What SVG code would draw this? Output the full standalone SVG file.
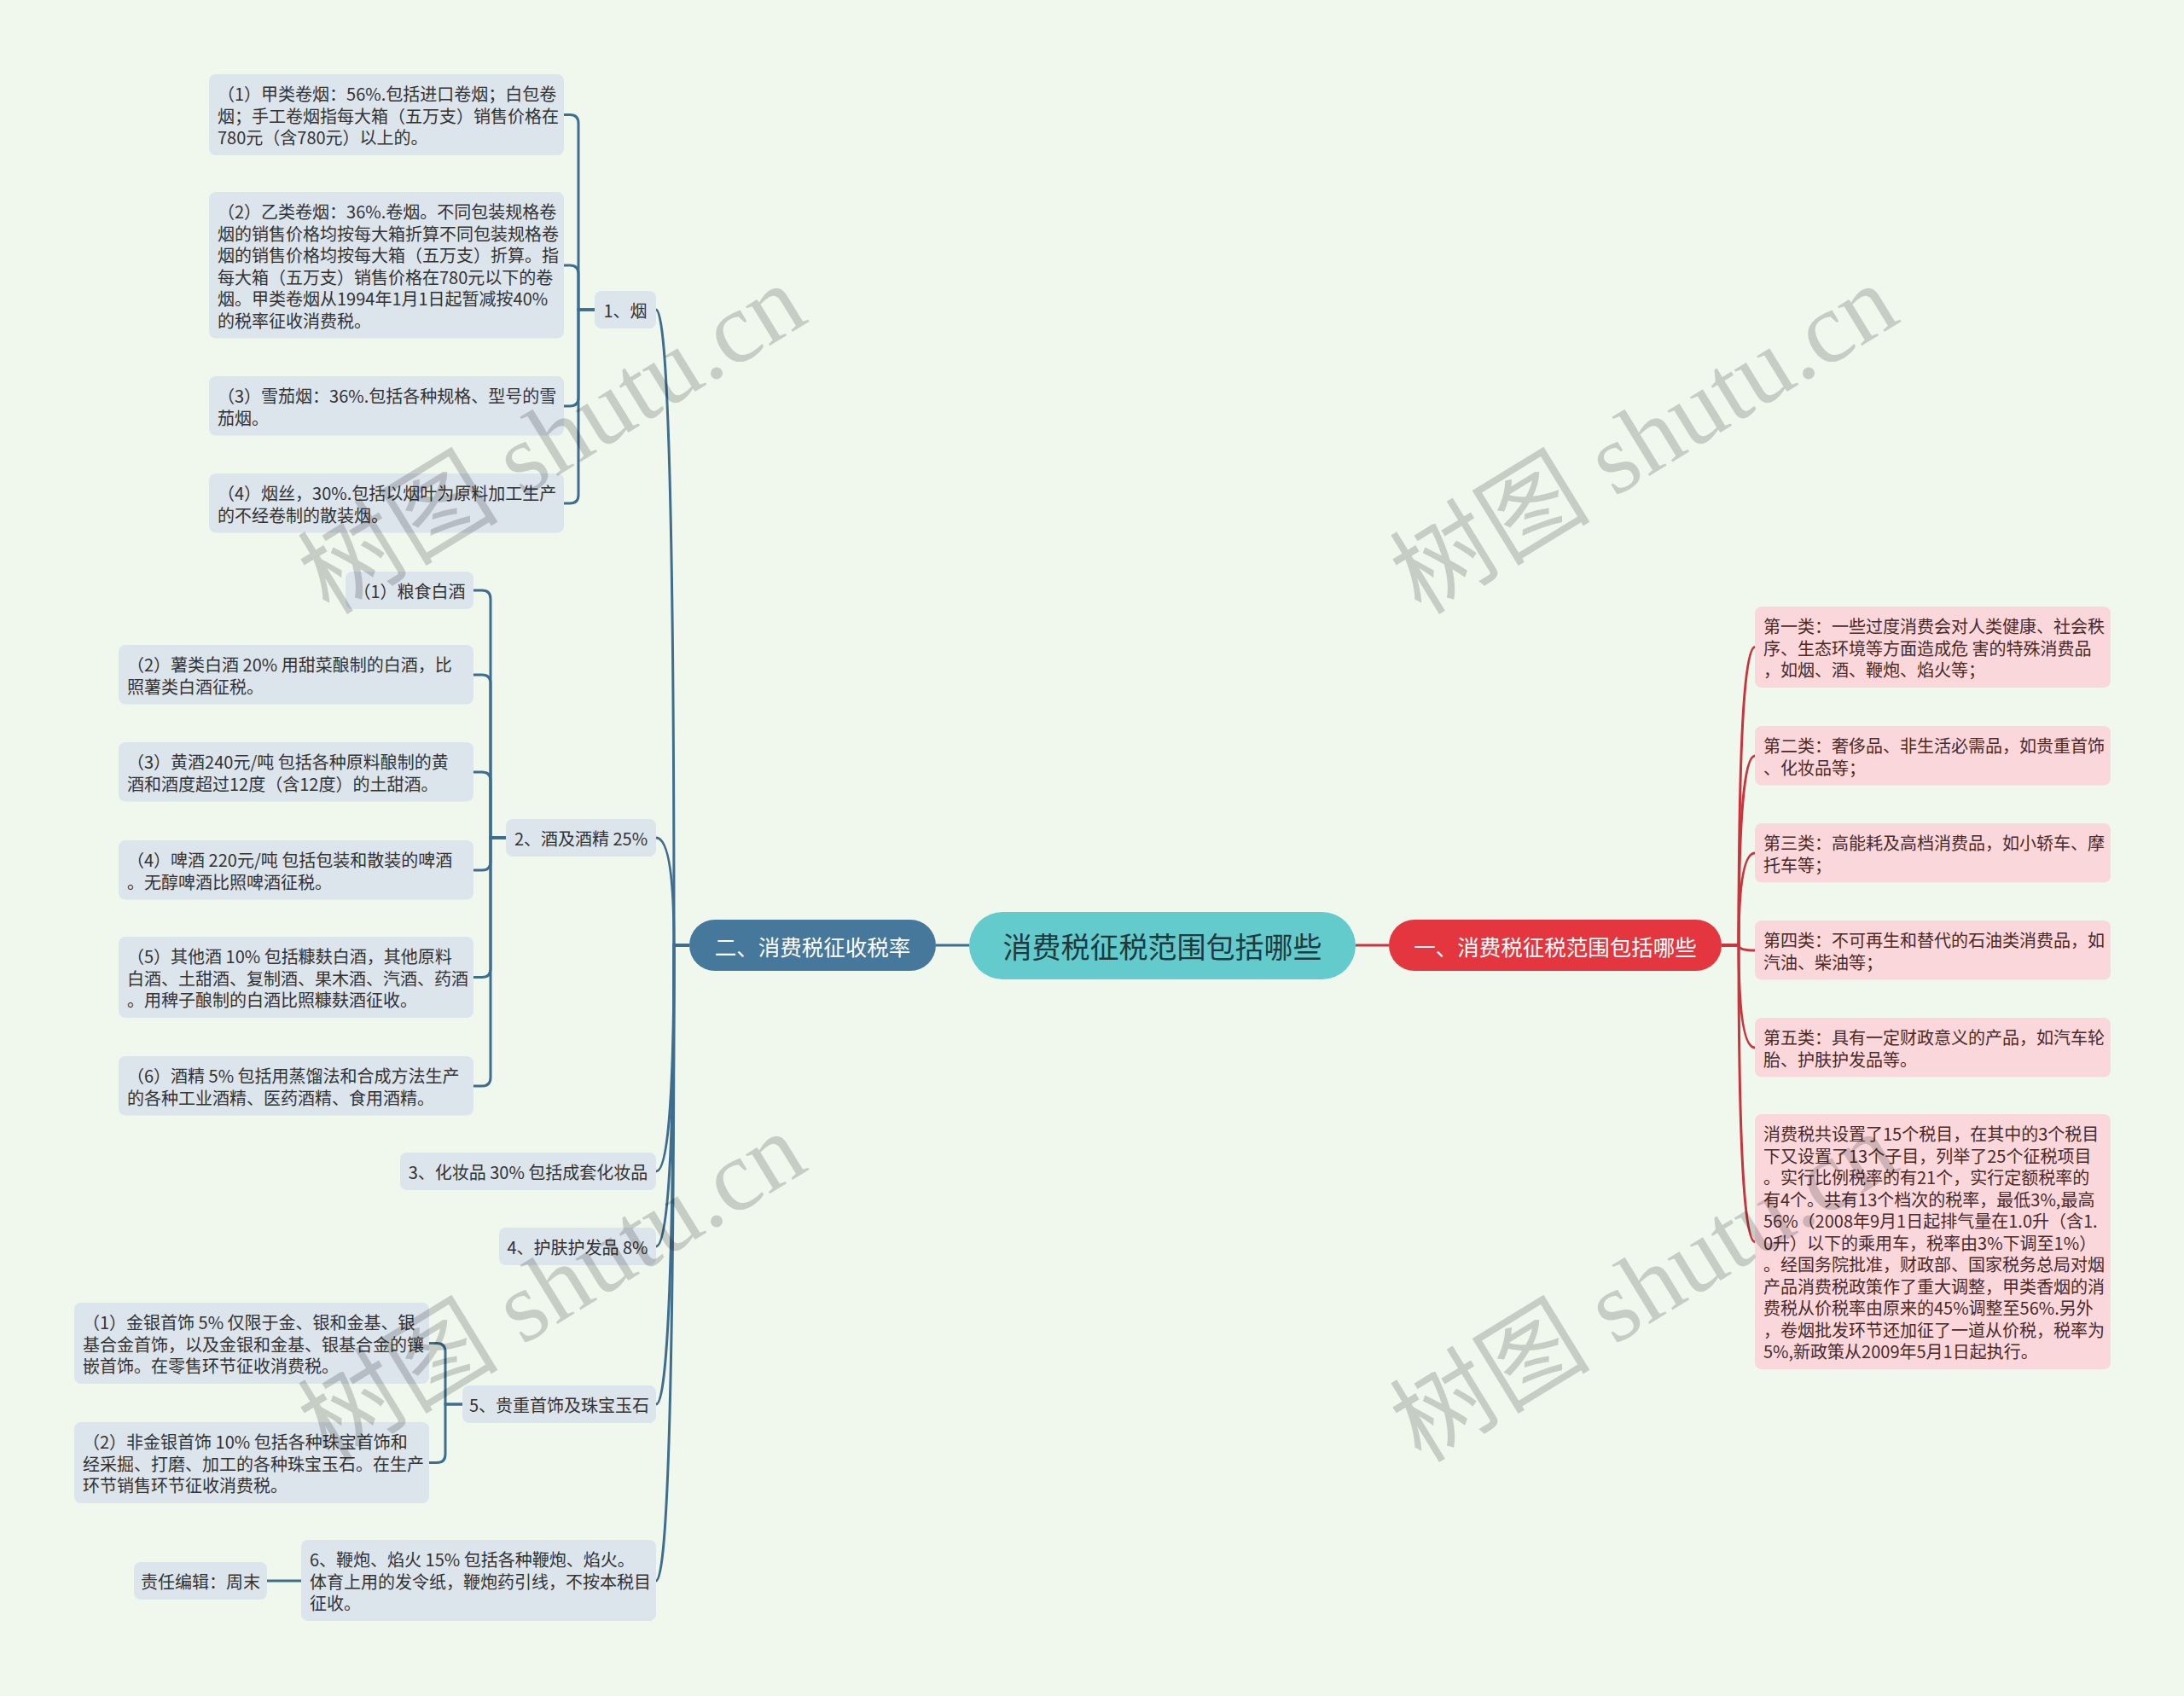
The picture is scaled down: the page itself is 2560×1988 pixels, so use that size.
<svg xmlns="http://www.w3.org/2000/svg" width="2560" height="1988" viewBox="0 0 2560 1988">
<style>
.t{font-family:"Noto Sans CJK SC","Noto Sans",sans-serif;font-size:20px;fill:#333;dominant-baseline:central}
.tp{fill:#4a2a2a}
.lb{fill:#DCE4EC}
.lp{fill:#F9D7DB}
.cb{fill:none;stroke:#3E6D8F;stroke-width:3}
.cr{fill:none;stroke:#C9343D;stroke-width:3}
.mt{font-family:"Noto Sans CJK SC","Noto Sans",sans-serif;font-size:25.5px;fill:#fff;dominant-baseline:central;text-anchor:middle}
.wm{font-family:"Liberation Serif","Noto Sans CJK SC",serif;font-size:118px;fill:#000;opacity:0.17;text-anchor:middle}
</style>
<rect width="2560" height="1988" fill="#F0F8EE"/>
<g id="connectors">
<path class="cb" d="M1097 1108 H1136"/>
<path class="cr" d="M1589 1108 H1628"/>
<path class="cb" d="M808 1108 H790 Q790 363 769 363"/>
<path class="cb" d="M808 1108 H790 Q790 982 769 982"/>
<path class="cb" d="M808 1108 H790 Q790 1373 769 1373"/>
<path class="cb" d="M808 1108 H790 Q790 1461 769 1461"/>
<path class="cb" d="M808 1108 H790 Q790 1646 769 1646"/>
<path class="cb" d="M808 1108 H790 Q790 1853 769 1853"/>
<path class="cb" d="M697 363 H678 V144.5 Q678 134.5 668 134.5 H661"/>
<path class="cb" d="M697 363 H678 V321 Q678 311 668 311 H661"/>
<path class="cb" d="M697 363 H678 V466 Q678 476 668 476 H661"/>
<path class="cb" d="M697 363 H678 V580 Q678 590 668 590 H661"/>
<path class="cb" d="M593 982 H575 V702 Q575 692 565 692 H555"/>
<path class="cb" d="M593 982 H575 V801 Q575 791 565 791 H555"/>
<path class="cb" d="M593 982 H575 V915 Q575 905 565 905 H555"/>
<path class="cb" d="M593 982 H575 V1010 Q575 1020 565 1020 H555"/>
<path class="cb" d="M593 982 H575 V1135.5 Q575 1145.5 565 1145.5 H555"/>
<path class="cb" d="M593 982 H575 V1263 Q575 1273 565 1273 H555"/>
<path class="cb" d="M542 1646 H522 V1584.5 Q522 1574.5 512 1574.5 H503"/>
<path class="cb" d="M542 1646 H522 V1704.5 Q522 1714.5 512 1714.5 H503"/>
<path class="cb" d="M353 1853 H313"/>
<path class="cr" d="M2018 1108 H2038 Q2038 758.5 2057 758.5"/>
<path class="cr" d="M2018 1108 H2038 Q2038 886 2057 886"/>
<path class="cr" d="M2018 1108 H2038 Q2038 1000 2057 1000"/>
<path class="cr" d="M2018 1108 H2038 Q2038 1114 2057 1114"/>
<path class="cr" d="M2018 1108 H2038 Q2038 1228 2057 1228"/>
<path class="cr" d="M2018 1108 H2038 Q2038 1455.5 2057 1455.5"/>
</g>
<g id="root">
<rect x="1136" y="1069" width="453" height="79" rx="39.5" fill="#63CBCB"/>
<text x="1362.5" y="1108" class="mt" style="font-size:34px;fill:#1E3A40">消费税征税范围包括哪些</text>
</g>
<g id="main-right">
<rect x="1628" y="1078" width="390" height="60" rx="30" fill="#E3363F"/>
<text x="1823" y="1108" class="mt">一、消费税征税范围包括哪些</text>
</g>
<g id="main-left">
<rect x="808" y="1078" width="289" height="60" rx="30" fill="#46789B"/>
<text x="952.5" y="1108" class="mt">二、消费税征收税率</text>
</g>
<g id="n-yan">
<rect class="lb" x="697" y="341" width="72" height="44" rx="8"/>
<text class="t" x="733" y="363" text-anchor="middle">1、烟</text>
</g>
<g id="n-yan-1">
<rect class="lb" x="245" y="87" width="416" height="95" rx="8"/>
<text class="t"><tspan x="255" y="109">（1）甲类卷烟：56%.包括进口卷烟；白包卷</tspan><tspan x="255" y="134.5">烟；手工卷烟指每大箱（五万支）销售价格在</tspan><tspan x="255" y="160">780元（含780元）以上的。</tspan></text>
</g>
<g id="n-yan-2">
<rect class="lb" x="245" y="225" width="416" height="171.5" rx="8"/>
<text class="t"><tspan x="255" y="247">（2）乙类卷烟：36%.卷烟。不同包装规格卷</tspan><tspan x="255" y="272.5">烟的销售价格均按每大箱折算不同包装规格卷</tspan><tspan x="255" y="298">烟的销售价格均按每大箱（五万支）折算。指</tspan><tspan x="255" y="323.5">每大箱（五万支）销售价格在780元以下的卷</tspan><tspan x="255" y="349">烟。甲类卷烟从1994年1月1日起暂减按40%</tspan><tspan x="255" y="374.5">的税率征收消费税。</tspan></text>
</g>
<g id="n-yan-3">
<rect class="lb" x="245" y="441" width="416" height="69.5" rx="8"/>
<text class="t"><tspan x="255" y="463">（3）雪茄烟：36%.包括各种规格、型号的雪</tspan><tspan x="255" y="488.5">茄烟。</tspan></text>
</g>
<g id="n-yan-4">
<rect class="lb" x="245" y="555" width="416" height="69.5" rx="8"/>
<text class="t"><tspan x="255" y="577">（4）烟丝，30%.包括以烟叶为原料加工生产</tspan><tspan x="255" y="602.5">的不经卷制的散装烟。</tspan></text>
</g>
<g id="n-jiu">
<rect class="lb" x="593" y="960" width="176" height="44" rx="8"/>
<text class="t" x="681" y="982" text-anchor="middle">2、酒及酒精 25%</text>
</g>
<g id="n-jiu-1">
<rect class="lb" x="405" y="670" width="150" height="44" rx="8"/>
<text class="t" x="480" y="692" text-anchor="middle">（1）粮食白酒</text>
</g>
<g id="n-jiu-2">
<rect class="lb" x="139" y="756" width="416" height="69.5" rx="8"/>
<text class="t"><tspan x="149" y="778">（2）薯类白酒 20% 用甜菜酿制的白酒，比</tspan><tspan x="149" y="803.5">照薯类白酒征税。</tspan></text>
</g>
<g id="n-jiu-3">
<rect class="lb" x="139" y="870" width="416" height="69.5" rx="8"/>
<text class="t"><tspan x="149" y="892">（3）黄酒240元/吨 包括各种原料酿制的黄</tspan><tspan x="149" y="917.5">酒和酒度超过12度（含12度）的土甜酒。</tspan></text>
</g>
<g id="n-jiu-4">
<rect class="lb" x="139" y="985" width="416" height="69.5" rx="8"/>
<text class="t"><tspan x="149" y="1007">（4）啤酒 220元/吨 包括包装和散装的啤酒</tspan><tspan x="149" y="1032.5">。无醇啤酒比照啤酒征税。</tspan></text>
</g>
<g id="n-jiu-5">
<rect class="lb" x="139" y="1098" width="416" height="95" rx="8"/>
<text class="t"><tspan x="149" y="1120">（5）其他酒 10% 包括糠麸白酒，其他原料</tspan><tspan x="149" y="1145.5">白酒、土甜酒、复制酒、果木酒、汽酒、药酒</tspan><tspan x="149" y="1171">。用稗子酿制的白酒比照糠麸酒征收。</tspan></text>
</g>
<g id="n-jiu-6">
<rect class="lb" x="139" y="1238" width="416" height="69.5" rx="8"/>
<text class="t"><tspan x="149" y="1260">（6）酒精 5% 包括用蒸馏法和合成方法生产</tspan><tspan x="149" y="1285.5">的各种工业酒精、医药酒精、食用酒精。</tspan></text>
</g>
<g id="n-hzp">
<rect class="lb" x="469" y="1351" width="300" height="44" rx="8"/>
<text class="t" x="619" y="1373" text-anchor="middle">3、化妆品 30% 包括成套化妆品</text>
</g>
<g id="n-hf">
<rect class="lb" x="585" y="1439" width="184" height="44" rx="8"/>
<text class="t" x="677" y="1461" text-anchor="middle">4、护肤护发品 8%</text>
</g>
<g id="n-sz">
<rect class="lb" x="542" y="1624" width="227" height="44" rx="8"/>
<text class="t" x="655.5" y="1646" text-anchor="middle">5、贵重首饰及珠宝玉石</text>
</g>
<g id="n-sz-1">
<rect class="lb" x="87" y="1527" width="416" height="95" rx="8"/>
<text class="t"><tspan x="97" y="1549">（1）金银首饰 5% 仅限于金、银和金基、银</tspan><tspan x="97" y="1574.5">基合金首饰，以及金银和金基、银基合金的镶</tspan><tspan x="97" y="1600">嵌首饰。在零售环节征收消费税。</tspan></text>
</g>
<g id="n-sz-2">
<rect class="lb" x="87" y="1667" width="416" height="95" rx="8"/>
<text class="t"><tspan x="97" y="1689">（2）非金银首饰 10% 包括各种珠宝首饰和</tspan><tspan x="97" y="1714.5">经采掘、打磨、加工的各种珠宝玉石。在生产</tspan><tspan x="97" y="1740">环节销售环节征收消费税。</tspan></text>
</g>
<g id="n-bp">
<rect class="lb" x="353" y="1805" width="416" height="95" rx="8"/>
<text class="t"><tspan x="363" y="1827">6、鞭炮、焰火 15% 包括各种鞭炮、焰火。</tspan><tspan x="363" y="1852.5">体育上用的发令纸，鞭炮药引线，不按本税目</tspan><tspan x="363" y="1878">征收。</tspan></text>
</g>
<g id="n-editor">
<rect class="lb" x="157" y="1831" width="156" height="44" rx="8"/>
<text class="t" x="235" y="1853" text-anchor="middle">责任编辑：周末</text>
</g>
<g id="p-1">
<rect class="lp" x="2057" y="711" width="417" height="95" rx="8"/>
<text class="t tp"><tspan x="2067" y="733">第一类：一些过度消费会对人类健康、社会秩</tspan><tspan x="2067" y="758.5">序、生态环境等方面造成危 害的特殊消费品</tspan><tspan x="2067" y="784">，如烟、酒、鞭炮、焰火等；</tspan></text>
</g>
<g id="p-2">
<rect class="lp" x="2057" y="851" width="417" height="69.5" rx="8"/>
<text class="t tp"><tspan x="2067" y="873">第二类：奢侈品、非生活必需品，如贵重首饰</tspan><tspan x="2067" y="898.5">、化妆品等；</tspan></text>
</g>
<g id="p-3">
<rect class="lp" x="2057" y="965" width="417" height="69.5" rx="8"/>
<text class="t tp"><tspan x="2067" y="987">第三类：高能耗及高档消费品，如小轿车、摩</tspan><tspan x="2067" y="1012.5">托车等；</tspan></text>
</g>
<g id="p-4">
<rect class="lp" x="2057" y="1079" width="417" height="69.5" rx="8"/>
<text class="t tp"><tspan x="2067" y="1101">第四类：不可再生和替代的石油类消费品，如</tspan><tspan x="2067" y="1126.5">汽油、柴油等；</tspan></text>
</g>
<g id="p-5">
<rect class="lp" x="2057" y="1193" width="417" height="69.5" rx="8"/>
<text class="t tp"><tspan x="2067" y="1215">第五类：具有一定财政意义的产品，如汽车轮</tspan><tspan x="2067" y="1240.5">胎、护肤护发品等。</tspan></text>
</g>
<g id="p-6">
<rect class="lp" x="2057" y="1306" width="417" height="299" rx="8"/>
<text class="t tp"><tspan x="2067" y="1328">消费税共设置了15个税目，在其中的3个税目</tspan><tspan x="2067" y="1353.5">下又设置了13个子目，列举了25个征税项目</tspan><tspan x="2067" y="1379">。实行比例税率的有21个，实行定额税率的</tspan><tspan x="2067" y="1404.5">有4个。共有13个档次的税率，最低3%,最高</tspan><tspan x="2067" y="1430">56%（2008年9月1日起排气量在1.0升（含1.</tspan><tspan x="2067" y="1455.5">0升）以下的乘用车，税率由3%下调至1%）</tspan><tspan x="2067" y="1481">。经国务院批准，财政部、国家税务总局对烟</tspan><tspan x="2067" y="1506.5">产品消费税政策作了重大调整，甲类香烟的消</tspan><tspan x="2067" y="1532">费税从价税率由原来的45%调整至56%.另外</tspan><tspan x="2067" y="1557.5">，卷烟批发环节还加征了一道从价税，税率为</tspan><tspan x="2067" y="1583">5%,新政策从2009年5月1日起执行。</tspan></text>
</g>
<g id="watermarks">
<text class="wm" transform="translate(668,549) rotate(-31.5)">树图 shutu.cn</text>
<text class="wm" transform="translate(1948,549) rotate(-31.5)">树图 shutu.cn</text>
<text class="wm" transform="translate(668,1543) rotate(-31.5)">树图 shutu.cn</text>
<text class="wm" transform="translate(1948,1543) rotate(-31.5)">树图 shutu.cn</text>
</g>
</svg>
